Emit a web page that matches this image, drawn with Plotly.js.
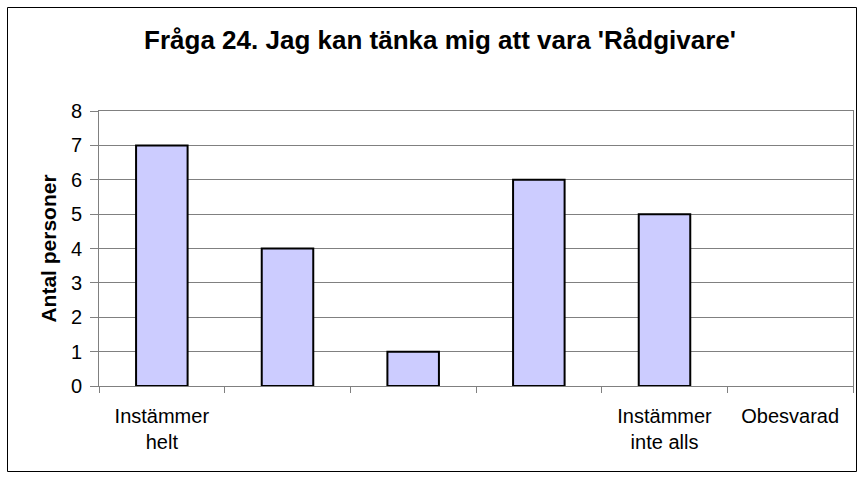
<!DOCTYPE html>
<html><head><meta charset="utf-8">
<script src="https://cdn.plot.ly/plotly-3.0.1.min.js"></script>
<style>body{margin:0;background:#fff}#chart{width:863px;height:480px}</style>
</head><body><div id="chart"></div>
<script>
const categories = ["Instämmer<br>helt", " ", "  ", "   ", "Instämmer<br>inte alls", "Obesvarad"];
const values = [7, 4, 1, 6, 5, 0];
const titleText = "Fråga 24. Jag kan tänka mig att vara 'Rådgivare'";
const yTitle = "Antal personer";

const L = 99, R = 10, T = 111, B = 94, W = 863, H = 480;
const pw = W - L - R, ph = H - T - B;
const px = v => (v - L) / pw;
const py = v => (H - B - v) / ph;

Plotly.newPlot('chart', [{
  type: 'bar', x: categories, y: values,
  marker: {color: '#CCCCFF', line: {color: '#000000', width: values.map(v => v === 0 ? 0 : 2)}},
  hoverinfo: 'none'
}], {
  width: W, height: H,
  margin: {l: L, r: R, t: T, b: B},
  paper_bgcolor: '#ffffff', plot_bgcolor: '#ffffff',
  bargap: 0.59,
  showlegend: false,
  font: {family: 'Liberation Sans, Arial, sans-serif', color: '#000'},
  title: {text: '<b>' + titleText + '</b>', font: {size: 26, color: '#000'},
          x: px(440), xref: 'paper', y: 1 - 40/H, yanchor: 'middle', xanchor: 'center'},
  xaxis: {type: 'category', tickson: 'boundaries', ticks: 'outside', ticklen: 6,
          tickcolor: '#808080', showgrid: false, showline: true, linecolor: '#808080',
          linewidth: 1, mirror: true, tickfont: {size: 20}, ticklabelstandoff: 12, fixedrange: true},
  yaxis: {range: [0, 8], dtick: 1, ticks: 'outside', ticklen: 8, tickcolor: '#808080',
          showgrid: true, gridcolor: '#808080', gridwidth: 1, showline: true,
          linecolor: '#808080', mirror: true, zeroline: false, tickfont: {size: 20},
          ticklabelstandoff: 4,
          title: {text: '<b>' + yTitle + '</b>', font: {size: 21}, standoff: 8}},
  shapes: [{type: 'rect', xref: 'paper', yref: 'paper',
            x0: px(7.5), x1: px(856.5), y0: py(471.5), y1: py(7.5),
            line: {color: '#000', width: 1}}]
}, {displayModeBar: false, staticPlot: true});
</script></body></html>
